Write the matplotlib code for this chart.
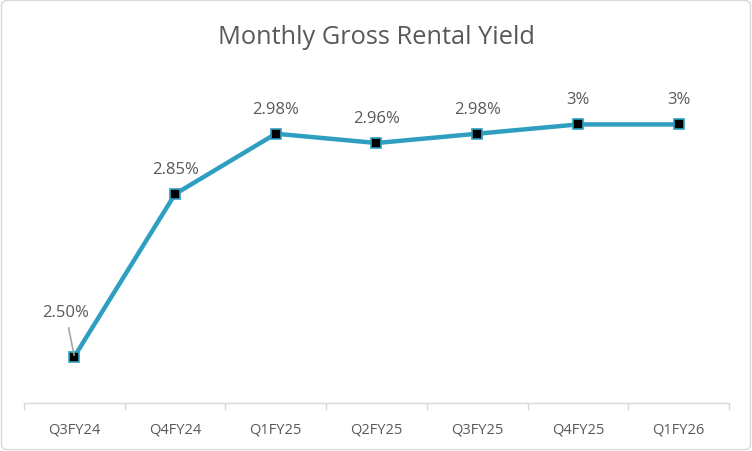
import matplotlib.pyplot as plt
from matplotlib.patches import FancyBboxPatch

quarters = ['Q3FY24', 'Q4FY24', 'Q1FY25', 'Q2FY25', 'Q3FY25', 'Q4FY25', 'Q1FY26']
yields = [2.50, 2.85, 2.98, 2.96, 2.98, 3.00, 3.00]
labels = ['2.50%', '2.85%', '2.98%', '2.96%', '2.98%', '3%', '3%']

plt.rcParams['font.family'] = ['Open Sans', 'DejaVu Sans']
txt = '#595959'
line_col = '#2E9FC0'

fig = plt.figure(figsize=(7.52, 4.52), dpi=100)
ax = fig.add_axes([24 / 752, 1 - 404 / 452, 705 / 752, 325 / 452])

x = list(range(len(quarters)))
ax.plot(x, yields, color=line_col, lw=3.2, marker='s', markersize=7,
        markerfacecolor='black', markeredgecolor=line_col, markeredgewidth=1.2,
        zorder=3, clip_on=False)

# first label sits up-left with a leader line, the rest straight above
for i, (v, lab) in enumerate(zip(yields, labels)):
    if i == 0:
        ax.annotate(lab, xy=(i, v), xytext=(-9, 45), textcoords='offset pixels',
                    ha='center', va='center', fontsize=12, color=txt,
                    arrowprops=dict(arrowstyle='-', color='#A6A6A6', lw=1.2,
                                    shrinkA=4, shrinkB=1))
    else:
        ax.annotate(lab, xy=(i, v), xytext=(0, 25), textcoords='offset pixels',
                    ha='center', va='center', fontsize=12, color=txt)

ax.set_xlim(-0.5, len(quarters) - 0.5)
ax.set_ylim(2.4, 3.1)
ax.set_yticks([])
ax.set_xticks(x)
ax.set_xticklabels(quarters, fontsize=10.5, color=txt)
ax.set_xticks([i - 0.5 for i in range(len(quarters) + 1)], minor=True)
ax.tick_params(axis='x', which='major', length=0, pad=13)
ax.tick_params(axis='x', which='minor', length=5, color='#D9D9D9', width=1)
for s in ['top', 'right', 'left']:
    ax.spines[s].set_visible(False)
ax.spines['bottom'].set_color('#D9D9D9')
ax.spines['bottom'].set_linewidth(1)

fig.text(0.5, 1 - 37 / 452, 'Monthly Gross Rental Yield', ha='center', va='center',
         fontsize=18.3, color=txt)

border = FancyBboxPatch((0.002, 0.003), 0.996, 0.994, boxstyle='round,pad=0,rounding_size=0.01',
                        transform=fig.transFigure, fill=False, edgecolor='#D9D9D9', lw=1)
fig.patches.append(border)

fig.savefig('out.png', dpi=100)
